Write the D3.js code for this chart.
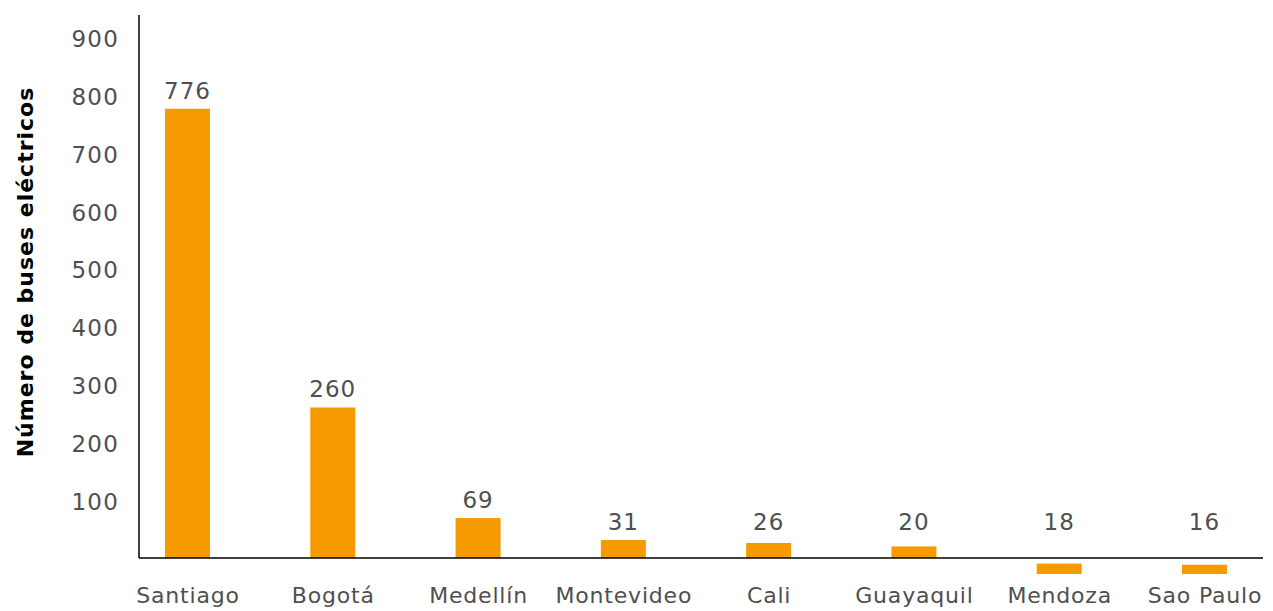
<!DOCTYPE html>
<html><head><meta charset="utf-8">
<script src="https://cdn.jsdelivr.net/npm/d3@7"></script>
<style>body{margin:0;background:#fff;}svg{display:block;}</style>
</head><body>
<svg id="c" width="1273" height="611"></svg>
<script>
const categories = ["Santiago","Bogotá","Medellín","Montevideo","Cali","Guayaquil","Mendoza","Sao Paulo"];
const values = [776, 260, 69, 31, 26, 20, 18, 16];
const tickValues = [100,200,300,400,500,600,700,800,900];
const belowAxis = ["Mendoza","Sao Paulo"]; // drawn hanging under the axis in the original
const yTitle = "Número de buses eléctricos";

const svg = d3.select("#c");
const font = "'DejaVu Sans', sans-serif";
const x = d3.scalePoint().domain(categories).range([187.5, 1204.5]);
const y = d3.scaleLinear().domain([0, 938]).range([558, 15]);
const bw = 45;
const orange = "#F59A00";
const textCol = "#4f4f4f";

// bars
svg.selectAll("rect.bar").data(categories).join("rect")
  .attr("class","bar")
  .attr("x", d => x(d) - bw/2)
  .attr("width", bw)
  .attr("y", (d,i) => belowAxis.includes(d) ? y(0) + 16 - (y(0)-y(values[i])) : y(values[i]))
  .attr("height", (d,i) => y(0) - y(values[i]))
  .attr("fill", orange);

// value labels
svg.selectAll("text.val").data(categories).join("text")
  .attr("class","val")
  .attr("x", d => x(d))
  .attr("y", (d,i) => y(Math.max(values[i], 31)) - 10)
  .attr("text-anchor","middle")
  .attr("font-family", font).attr("font-size", 23).attr("letter-spacing", 1)
  .attr("fill", textCol)
  .text((d,i) => values[i]);

// axes
const yAxis = d3.axisLeft(y).tickValues(tickValues).tickSize(0).tickPadding(20);
const gy = svg.append("g").attr("transform","translate(139,2)").call(yAxis);
gy.select(".domain").remove();
gy.selectAll("text").attr("font-family", font).attr("font-size", 23).attr("letter-spacing", 1.2).attr("fill", textCol);

const xAxis = d3.axisBottom(x).tickSize(0).tickPadding(29);
const gx = svg.append("g").attr("transform","translate(0,558)").call(xAxis);
gx.select(".domain").remove();
gx.selectAll("text").attr("font-family", font).attr("font-size", 22).attr("letter-spacing", 0.8).attr("fill", textCol);

svg.append("line").attr("x1",139).attr("x2",139).attr("y1",y.range()[1]).attr("y2",y(0))
  .attr("stroke","#000").attr("stroke-width",1.5);
svg.append("line").attr("x1",139).attr("x2",1263).attr("y1",y(0)).attr("y2",y(0))
  .attr("stroke","#000").attr("stroke-width",1.5);

svg.append("text")
  .attr("transform","translate(33,272) rotate(-90)")
  .attr("text-anchor","middle")
  .attr("font-family", font).attr("font-size", 22).attr("font-weight","bold").attr("letter-spacing", 1)
  .attr("fill","#000")
  .text(yTitle);
</script>
</body></html>
